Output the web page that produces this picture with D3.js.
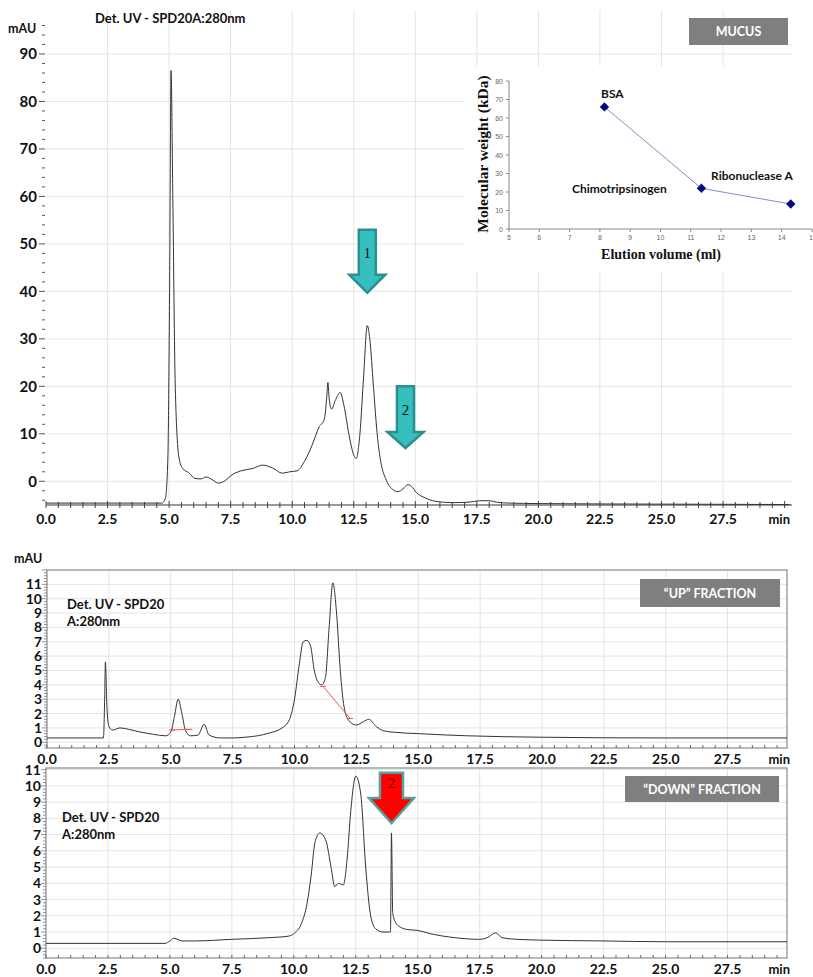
<!DOCTYPE html>
<html><head><meta charset="utf-8">
<script src="https://cdn.jsdelivr.net/npm/d3@7"></script>
<style>
body{margin:0;background:#fff}
svg{display:block}
text{font-family:Lato,"Open Sans",sans-serif;font-weight:700;fill:#111}
</style></head><body>
<svg id="c" width="813" height="977"></svg>
<script>
// ---------------- DATA ----------------
const timeTicks = [0, 2.5, 5, 7.5, 10, 12.5, 15, 17.5, 20, 22.5, 25, 27.5];
const topYTicks = [0, 10, 20, 30, 40, 50, 60, 70, 80, 90];
const fracYTicks = [0, 1, 2, 3, 4, 5, 6, 7, 8, 9, 10, 11];

// MUCUS chromatogram [min, mAU]
const mucusTrace = [[0,-4.6],[4.7,-4.6],[4.85,-3.6],[4.95,5],[5.02,40],[5.08,86.5],[5.15,60],[5.25,20],[5.4,5],[5.55,2.7],
  [5.8,1.8],[6.05,0.6],[6.3,0.5],[6.5,0.9],[6.7,0.5],[7.0,-0.4],[7.2,-0.1],[7.6,1.5],[8.0,2.3],[8.4,2.7],[8.8,3.4],
  [9.2,2.8],[9.6,1.7],[9.9,2.0],[10.2,2.2],[10.5,4.2],[10.8,7.5],[11.1,11.5],[11.3,13],[11.4,17.5],[11.45,20.8],[11.5,17.5],
  [11.6,15.2],[11.75,17],[11.95,18.7],[12.1,16],[12.3,10],[12.5,5.5],[12.6,4.8],[12.75,10],[12.9,22],[13.05,32.8],[13.15,30],
  [13.3,20],[13.45,10],[13.6,4],[13.8,0.5],[14.05,-1.6],[14.3,-2.2],[14.5,-1.6],[14.7,-0.7],[14.85,-1.1],[15.05,-2.4],
  [15.4,-3.5],[15.8,-4.2],[16.5,-4.5],[17.2,-4.4],[17.6,-4.1],[18.0,-4.1],[18.3,-4.4],[18.8,-4.6],[20,-4.7],[24,-4.8],[30.2,-4.9]];

// "UP" fraction [min, mAU]
const upTrace = [[0,0.3],[2.28,0.3],[2.33,3],[2.36,5.6],[2.42,2.5],[2.5,1.1],[2.65,0.85],[2.95,1.0],[3.3,0.9],[3.8,0.7],
  [4.3,0.55],[4.8,0.45],[5.0,0.7],[5.15,1.8],[5.3,3.0],[5.45,2.0],[5.6,0.8],[5.8,0.45],[6.1,0.5],[6.35,1.25],[6.55,0.5],
  [7.0,0.3],[7.5,0.3],[8.0,0.35],[8.5,0.45],[9.0,0.65],[9.5,1.0],[9.8,1.6],[10.0,3.0],[10.2,5.5],[10.35,7.0],[10.5,7.1],
  [10.65,6.7],[10.8,5.0],[10.95,4.2],[11.1,4.0],[11.25,4.5],[11.4,8.0],[11.55,11.1],[11.7,9.0],[11.85,5.0],[12.0,2.5],
  [12.2,1.5],[12.5,1.2],[12.8,1.45],[13.0,1.6],[13.3,1.1],[13.6,0.8],[14.0,0.7],[15,0.6],[17,0.45],[20,0.35],[25,0.3],[29.9,0.3]];
const upBaseA = [[5.05,0.85],[5.75,0.9]];
const upBaseB = [[11.15,3.9],[12.25,1.65]];

// "DOWN" fraction [min, mAU]
const downTrace = [[0,0.3],[4.8,0.3],[5.0,0.45],[5.15,0.62],[5.5,0.45],[6.0,0.45],[7.5,0.55],[9.0,0.65],[9.8,0.75],[10.0,0.9],
  [10.3,1.5],[10.5,2.5],[10.7,4.5],[10.85,6.5],[11.05,7.1],[11.3,6.6],[11.5,5.0],[11.65,3.8],[11.8,4.0],[12.0,3.9],[12.15,5.5],
  [12.3,8.5],[12.5,10.6],[12.7,9.5],[12.9,5.0],[13.1,2.0],[13.3,1.2],[13.6,1.0],[13.9,1.0],[13.94,7.1],[13.99,2.2],[14.1,1.6],
  [14.3,1.3],[14.6,1.15],[15.0,1.1],[15.5,0.9],[16.5,0.65],[17.5,0.55],[17.8,0.65],[18.15,0.95],[18.4,0.65],[19,0.55],
  [20,0.5],[22.5,0.45],[25,0.4],[29.9,0.4]];

// Calibration inset
const stdNames = ["BSA", "Chimotripsinogen", "Ribonuclease A"];
const stdElution = [8.15, 11.35, 14.3];
const stdMW = [66, 22, 13.5];
const insetXTicks = [5, 6, 7, 8, 9, 10, 11, 12, 13, 14, 15];
const insetYTicks = [0, 10, 20, 30, 40, 50, 60, 70, 80];

// ---------------- DRAWING ----------------
const svg = d3.select("#c");
const gridC = "#e4e4e4";
const line = (x, y) => d3.line().x(d => x(d[0])).y(d => y(d[1])).curve(d3.curveMonotoneX);
const range = (a, b, s) => d3.range(a, b + s / 2, s);

function arrow(g, cx, yTop, yHead, yTip, sh, hh, fill, stroke, label, labelColor) {
  const p = `M${cx-sh},${yTop}L${cx+sh},${yTop}L${cx+sh},${yHead}L${cx+hh},${yHead}L${cx},${yTip}L${cx-hh},${yHead}L${cx-sh},${yHead}Z`;
  g.append("path").attr("d", p).attr("fill", fill).attr("stroke", stroke).attr("stroke-width", 2.5).attr("stroke-linejoin", "miter");
  g.append("text").attr("x", cx).attr("y", yTop + (yHead - yTop) * 0.62).attr("text-anchor", "middle")
    .style("font-family", "'Liberation Serif',serif").style("font-weight", 400).style("font-size", "15px").style("fill", labelColor).text(label);
}
function tagBox(x0, y0, w, h, txt) {
  svg.append("rect").attr("x", x0).attr("y", y0).attr("width", w).attr("height", h).attr("fill", "#7f7f7f");
  svg.append("text").attr("x", x0 + w / 2).attr("y", y0 + h / 2 + 4.5).attr("text-anchor", "middle")
    .style("font-size", "12.5px").style("fill", "#fff").text(txt);
}

// ===== TOP PANEL (MUCUS) =====
{
  const x = d3.scaleLinear().domain([0, 30.3]).range([46, 792]);
  const y = d3.scaleLinear().domain([-5, 98]).range([505, 16]);
  const g = svg.append("g");
  g.selectAll(".vg").data(timeTicks.slice(1)).join("line").attr("x1", d => x(d)).attr("x2", d => x(d))
    .attr("y1", 10).attr("y2", 505).attr("stroke", gridC);
  g.selectAll(".hg").data(topYTicks).join("line").attr("x1", 46).attr("x2", 792)
    .attr("y1", d => y(d)).attr("y2", d => y(d)).attr("stroke", gridC);
  g.selectAll(".ym").data(range(-4, 96, 2)).join("line").attr("x1", d => d % 10 === 0 ? 39 : 42).attr("x2", 45)
    .attr("y1", d => y(d)).attr("y2", d => y(d)).attr("stroke", "#555").attr("stroke-width", 1);
  g.selectAll(".yl").data(topYTicks).join("text").attr("x", 37).attr("y", d => y(d) + 5.5).attr("text-anchor", "end")
    .style("font-size", "15px").text(d => d);
  g.append("text").attr("x", 8).attr("y", 33).style("font-size", "12.5px").text("mAU");
  g.append("text").attr("x", 95).attr("y", 23).style("font-size", "13px").text("Det. UV - SPD20A:280nm");
  g.append("line").attr("x1", 46).attr("x2", 792).attr("y1", 505).attr("y2", 505).attr("stroke", "#333");
  g.selectAll(".xm").data(range(0, 30, 0.5)).join("line").attr("x1", d => x(d)).attr("x2", d => x(d))
    .attr("y1", d => (d % 2.5 === 0) ? 501 : 502).attr("y2", 508).attr("stroke", "#444");
  g.selectAll(".xl").data(timeTicks).join("text").attr("x", d => x(d)).attr("y", 524).attr("text-anchor", "middle")
    .style("font-size", "14px").text(d => d.toFixed(1));
  g.append("text").attr("x", 790).attr("y", 524).attr("text-anchor", "end").style("font-size", "13px").text("min");
  g.append("path").datum(mucusTrace).attr("d", line(x, y)).attr("fill", "none").attr("stroke", "#333").attr("stroke-width", 1);
  arrow(g, x(13.05), y(53), y(43.5), y(39.7), 8.5, 18, "#35bfbf", "#2b8f8f", "1", "#111");
  arrow(g, x(14.6), y(20), y(10.4), y(7), 8.5, 18, "#35bfbf", "#2b8f8f", "2", "#111");
  tagBox(689, 18, 99, 27, "MUCUS");

  // ---- inset calibration ----
  svg.append("rect").attr("x", 465).attr("y", 66).attr("width", 348).attr("height", 205).attr("fill", "#fff");
  const ix = d3.scaleLinear().domain([5, 15]).range([509, 812]);
  const iy = d3.scaleLinear().domain([0, 80]).range([229, 81]);
  const ig = svg.append("g");
  ig.append("line").attr("x1", 509).attr("x2", 509).attr("y1", 81).attr("y2", 229).attr("stroke", "#888");
  ig.append("line").attr("x1", 509).attr("x2", 812).attr("y1", 229).attr("y2", 229).attr("stroke", "#888");
  ig.selectAll(".it").data(insetYTicks).join("line").attr("x1", 506).attr("x2", 509)
    .attr("y1", d => iy(d)).attr("y2", d => iy(d)).attr("stroke", "#888");
  ig.selectAll(".il").data(insetYTicks).join("text").attr("x", 503).attr("y", d => iy(d) + 2.5).attr("text-anchor", "end")
    .style("font-size", "7px").style("font-weight", 400).style("font-family", "'Liberation Sans',sans-serif").style("fill", "#666").text(d => d);
  ig.selectAll(".xt").data(insetXTicks).join("line").attr("x1", d => ix(d)).attr("x2", d => ix(d))
    .attr("y1", 229).attr("y2", 232).attr("stroke", "#888");
  ig.selectAll(".xl").data(insetXTicks.slice(0, -1)).join("text").attr("x", d => ix(d)).attr("y", 240).attr("text-anchor", "middle")
    .style("font-size", "7px").style("font-weight", 400).style("font-family", "'Liberation Sans',sans-serif").style("fill", "#666").text(d => d);
  ig.append("text").attr("x", 809).attr("y", 240).attr("text-anchor", "start")
    .style("font-size", "7px").style("font-weight", 400).style("font-family", "'Liberation Sans',sans-serif").style("fill", "#666").text("1");
  const pts = stdElution.map((e, i) => [e, stdMW[i]]);
  ig.append("path").datum(pts).attr("d", d3.line().x(d => ix(d[0])).y(d => iy(d[1])))
    .attr("fill", "none").attr("stroke", "#8a8ac8").attr("stroke-width", 1);
  ig.selectAll(".pt").data(pts).join("path").attr("d", d3.symbol(d3.symbolDiamond2, 56))
    .attr("transform", d => `translate(${ix(d[0])},${iy(d[1])})`).attr("fill", "#0a0a80");
  const lblPos = [[601, 98], [572, 193], [711, 180]];
  ig.selectAll(".sl").data(stdNames).join("text").attr("x", (d, i) => lblPos[i][0]).attr("y", (d, i) => lblPos[i][1])
    .style("font-size", "12px").text(d => d);
  ig.append("text").attr("transform", "translate(488,154) rotate(-90)").attr("text-anchor", "middle")
    .style("font-family", "'Liberation Serif',serif").style("font-size", "15.5px").text("Molecular weight (kDa)");
  ig.append("text").attr("x", 661).attr("y", 259).attr("text-anchor", "middle")
    .style("font-family", "'Liberation Serif',serif").style("font-size", "14px").text("Elution volume (ml)");
}

// ===== FRACTION PANELS =====
function fracPanel(o) {
  const x = d3.scaleLinear().domain([0, 29.9]).range([o.x0, o.x1]);
  const y = d3.scaleLinear().domain(o.yDom).range([o.yb, o.yt]);
  const g = svg.append("g");
  g.selectAll(".vg").data(timeTicks.slice(1)).join("line").attr("x1", d => x(d)).attr("x2", d => x(d))
    .attr("y1", o.yt).attr("y2", o.yb).attr("stroke", gridC);
  g.selectAll(".hg").data(fracYTicks).join("line").attr("x1", o.x0).attr("x2", o.x1)
    .attr("y1", d => y(d)).attr("y2", d => y(d)).attr("stroke", gridC);
  g.append("rect").attr("x", o.x0).attr("y", o.yt).attr("width", o.x1 - o.x0).attr("height", o.yb - o.yt)
    .attr("fill", "none").attr("stroke", "#8a8a8a").attr("stroke-width", 1.2);
  const yMin = range(Math.ceil(o.yDom[0] * 5) / 5, o.yDom[1], 0.2).filter(v => v <= o.yDom[1]);
  g.selectAll(".ym").data(yMin).join("line").attr("x1", d => Math.abs(d - Math.round(d)) < 1e-6 ? o.x0 - 5 : o.x0 - 3).attr("x2", o.x0)
    .attr("y1", d => y(d)).attr("y2", d => y(d)).attr("stroke", "#777").attr("stroke-width", 0.8);
  g.selectAll(".yl").data(fracYTicks).join("text").attr("x", o.x0 - 5).attr("y", d => y(d) + 5).attr("text-anchor", "end")
    .style("font-size", "14px").text(d => d);
  g.selectAll(".xm").data(range(0, 29.5, 0.5)).join("line").attr("x1", d => x(d)).attr("x2", d => x(d))
    .attr("y1", o.yb - 3).attr("y2", o.yb).attr("stroke", "#666");
  g.selectAll(".xl").data(timeTicks).join("text").attr("x", d => x(d)).attr("y", o.yb + 16).attr("text-anchor", "middle")
    .style("font-size", "14px").text(d => d.toFixed(1));
  g.append("text").attr("x", 790).attr("y", o.yb + 16).attr("text-anchor", "end").style("font-size", "13px").text("min");
  g.append("text").attr("x", o.tx).attr("y", o.ty).style("font-size", "13px").text("Det. UV - SPD20");
  g.append("text").attr("x", o.tx).attr("y", o.ty + 17).style("font-size", "13px").text("A:280nm");
  g.append("path").datum(o.trace).attr("d", line(x, y)).attr("fill", "none").attr("stroke", "#333").attr("stroke-width", 1);
  return { g, x, y };
}

const up = fracPanel({ x0: 47, x1: 787, yt: 570, yb: 748, yDom: [-0.4, 12.0], trace: upTrace, tx: 67, ty: 609 });
svg.append("text").attr("x", 14).attr("y", 563).style("font-size", "12.5px").text("mAU");
[upBaseA, upBaseB].forEach(seg => {
  up.g.append("line").attr("x1", up.x(seg[0][0])).attr("y1", up.y(seg[0][1])).attr("x2", up.x(seg[1][0])).attr("y2", up.y(seg[1][1]))
    .attr("stroke", "#e05a5a").attr("stroke-width", 1);
  seg.forEach(p => {
    up.g.append("line").attr("x1", up.x(p[0]) - 3).attr("x2", up.x(p[0]) + 3).attr("y1", up.y(p[1])).attr("y2", up.y(p[1]))
      .attr("stroke", "#e05a5a");
  });
});
tagBox(640, 579, 140, 28, "\u201CUP\u201D FRACTION");

const down = fracPanel({ x0: 46, x1: 787, yt: 768, yb: 958, yDom: [-0.6, 11.1], trace: downTrace, tx: 62, ty: 822 });
arrow(down.g, down.x(13.94), down.y(10.8), down.y(9.25), down.y(7.7), 11.5, 22.5, "#ff0000", "#4fa3a3", "2", "#7a0000");
tagBox(625, 776, 154, 26, "\u201CDOWN\u201D FRACTION");
</script></body></html>
